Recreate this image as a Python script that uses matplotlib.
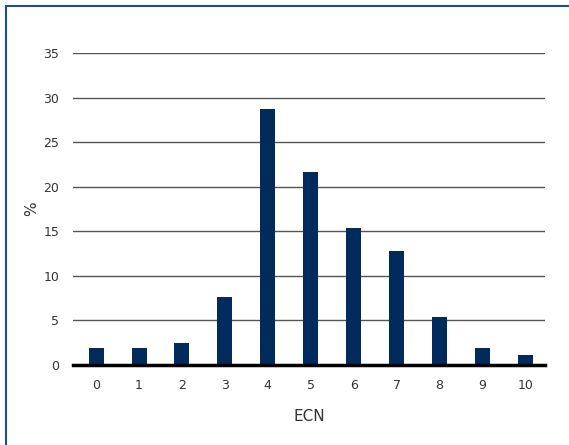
#Libraries
import matplotlib.pyplot as plt
from matplotlib.lines import Line2D

#Data
ecn = [0, 1, 2, 3, 4, 5, 6, 7, 8, 9, 10]
percent = [1.9, 1.9, 2.5, 7.6, 28.7, 21.6, 15.4, 12.8, 5.4, 1.9, 1.1]
y_ticks = [0, 5, 10, 15, 20, 25, 30, 35]

#Figure
fig = plt.figure(figsize=(5.69, 4.45), dpi=100)
ax = fig.add_axes([73/569, 1 - 365/445, 472/569, 312/445])

##Bars
ax.bar(ecn, percent, width=0.35, color='#002b5c', zorder=3)

##Axes
ax.set_xlim(-0.54, 10.46)
ax.set_ylim(0, 35)
ax.set_yticks(y_ticks)
ax.set_xticks(ecn)
ax.yaxis.grid(True, color='#555555', linewidth=1)
ax.set_axisbelow(True)
for side in ['top', 'right', 'left']:
    ax.spines[side].set_visible(False)
ax.spines['bottom'].set_linewidth(2.5)
ax.spines['bottom'].set_color('black')
ax.spines['bottom'].set_zorder(4)
ax.tick_params(length=0, labelsize=9, colors='#333333')
ax.tick_params(axis='x', pad=10)
ax.tick_params(axis='y', pad=10)
ax.set_xlabel('ECN', fontsize=11, color='#333333', labelpad=12)
ax.set_ylabel('%', fontsize=11, color='#333333', labelpad=3)

##Border (top and left only)
bx, by = 6/569, 1 - 6/445
fig.add_artist(Line2D([bx, 1], [by, by], transform=fig.transFigure,
                      color='#1f4e8c', linewidth=1.5))
fig.add_artist(Line2D([bx, bx], [0, by], transform=fig.transFigure,
                      color='#1f4e8c', linewidth=1.5))

fig.savefig('out.png', dpi=100)
